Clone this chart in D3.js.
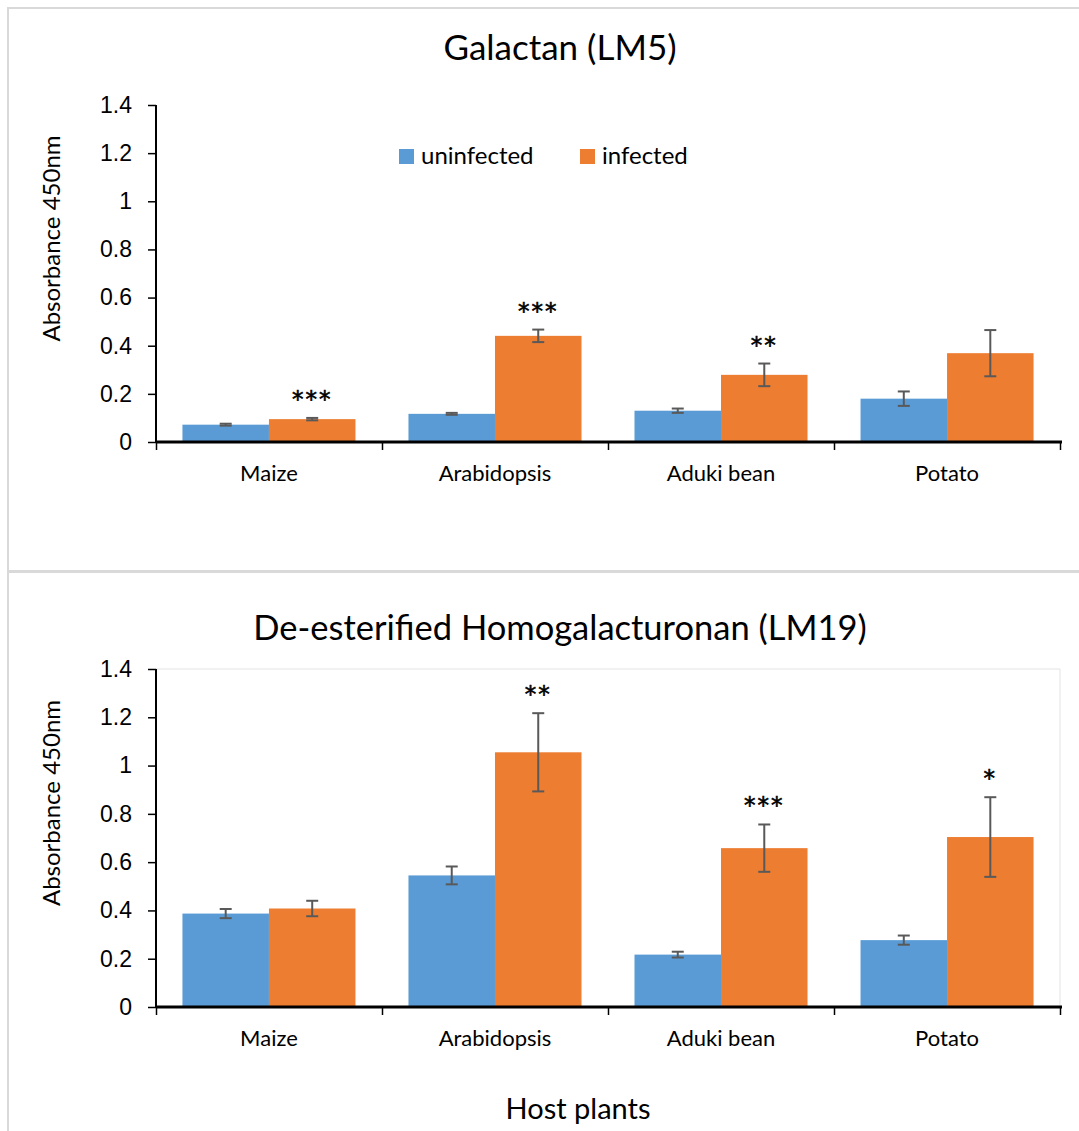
<!DOCTYPE html>
<html>
<head>
<meta charset="utf-8">
<script src="https://cdn.jsdelivr.net/npm/d3@7"></script>
<style>
  body { margin: 0; background: #fff; }
  svg { display: block; font-family: Lato, "Open Sans", sans-serif; }
</style>
</head>
<body>
<svg id="chart" width="1079" height="1131"></svg>
<script>
// host plants on the x axis, two series per plant
var plants = ["Maize", "Arabidopsis", "Aduki bean", "Potato"];
var series = ["uninfected", "infected"];
var yTicks = [0, 0.2, 0.4, 0.6, 0.8, 1, 1.2, 1.4];

// Galactan (LM5)
var lm5Uninfected    = [0.072, 0.117, 0.130, 0.180];
var lm5UninfectedErr = [0.004, 0.004, 0.009, 0.030];
var lm5Infected      = [0.095, 0.441, 0.279, 0.369];
var lm5InfectedErr   = [0.005, 0.026, 0.047, 0.096];
var lm5Stars         = ["***", "***", "**", ""];

// De-esterified Homogalacturonan (LM19)
var lm19Uninfected    = [0.387, 0.545, 0.217, 0.277];
var lm19UninfectedErr = [0.019, 0.037, 0.012, 0.019];
var lm19Infected      = [0.408, 1.055, 0.658, 0.704];
var lm19InfectedErr   = [0.032, 0.162, 0.098, 0.165];
var lm19Stars         = ["", "**", "***", "*"];

var color = d3.scaleOrdinal().domain(series).range(["#5b9bd5", "#ed7d31"]);

var svg = d3.select("#chart");

// panel frames
svg.append("rect").attr("x", 8).attr("y", 8).attr("width", 1100).attr("height", 563)
  .attr("fill", "none").attr("stroke", "#d9d9d9").attr("stroke-width", 2);
svg.append("rect").attr("x", 8).attr("y", 572).attr("width", 1100).attr("height", 600)
  .attr("fill", "none").attr("stroke", "#d9d9d9").attr("stroke-width", 2);

function rows(unf, unfErr, inf, infErr, stars) {
  return plants.map(function(p, i) {
    return {
      plant: p,
      stars: stars[i],
      bars: [
        {key: "uninfected", value: unf[i], err: unfErr[i]},
        {key: "infected", value: inf[i], err: infErr[i]}
      ]
    };
  });
}

function drawPanel(opt) {
  var top = opt.top, bottom = opt.bottom, left = 156, right = 1060;
  var g = svg.append("g");

  var x0 = d3.scaleBand().domain(plants).range([left, right])
    .paddingInner(0.2345).paddingOuter(0.117);
  var x1 = d3.scaleBand().domain(series).range([0, x0.bandwidth()]);
  var y = d3.scaleLinear().domain([0, 1.4]).range([bottom, top]);

  if (opt.frame) {
    g.append("path")
      .attr("d", "M" + left + "," + top + "H" + right + "V" + bottom)
      .attr("fill", "none").attr("stroke", "#e3e3e3").attr("stroke-width", 1);
  }

  // title
  g.append("text")
    .attr("x", 560).attr("y", opt.titleY)
    .attr("text-anchor", "middle")
    .style("font-size", opt.titleSize + "px").attr("fill", "#000")
    .text(opt.title);

  // bars
  var grp = g.selectAll(".grp")
    .data(opt.data)
    .enter().append("g")
      .attr("class", "grp")
      .attr("transform", function(d) { return "translate(" + x0(d.plant) + ",0)"; });

  grp.selectAll("rect")
    .data(function(d) { return d.bars; })
    .enter().append("rect")
      .attr("x", function(d) { return x1(d.key); })
      .attr("y", function(d) { return y(d.value); })
      .attr("width", x1.bandwidth())
      .attr("height", function(d) { return y(0) - y(d.value); })
      .attr("fill", function(d) { return color(d.key); });

  // error bars
  var eb = grp.selectAll(".err")
    .data(function(d) { return d.bars; })
    .enter().append("g").attr("class", "err")
      .attr("stroke", "#595959").attr("stroke-width", 2);
  eb.append("line")
    .attr("x1", function(d) { return x1(d.key) + x1.bandwidth() / 2; })
    .attr("x2", function(d) { return x1(d.key) + x1.bandwidth() / 2; })
    .attr("y1", function(d) { return y(d.value + d.err); })
    .attr("y2", function(d) { return y(d.value - d.err); });
  eb.selectAll(".cap")
    .data(function(d) { return [d.value + d.err, d.value - d.err].map(function(v) { return {key: d.key, v: v}; }); })
    .enter().append("line")
      .attr("x1", function(d) { return x1(d.key) + x1.bandwidth() / 2 - 6; })
      .attr("x2", function(d) { return x1(d.key) + x1.bandwidth() / 2 + 6; })
      .attr("y1", function(d) { return y(d.v); })
      .attr("y2", function(d) { return y(d.v); });

  // significance stars over the infected bar
  grp.append("text")
    .attr("x", x1("infected") + x1.bandwidth() / 2)
    .attr("y", function(d) { return y(d.bars[1].value + d.bars[1].err) - 11; })
    .attr("text-anchor", "middle")
    .style("font-family", "'DejaVu Sans', sans-serif")
    .style("font-size", "23px").style("letter-spacing", "2px")
    .attr("stroke", "#000").attr("stroke-width", 0.6)
    .text(function(d) { return d.stars; });

  // y axis
  var yAxis = g.append("g")
    .attr("transform", "translate(" + left + ",0)")
    .call(d3.axisLeft(y).tickValues(yTicks).tickSize(8).tickPadding(16).tickFormat(d3.format("~f")));
  yAxis.select(".domain").attr("stroke", "#000").attr("stroke-width", 2).attr("d", "M0," + top + "V" + bottom);
  yAxis.selectAll(".tick line").attr("stroke", "#000").attr("stroke-width", 1.5);
  yAxis.selectAll("text").style("font-size", "23px").attr("fill", "#000").attr("font-family", null);

  // x axis: ticks at category boundaries
  var edges = d3.scaleLinear().domain([0, plants.length]).range([left, right]);
  var xAxis = g.append("g")
    .attr("transform", "translate(0," + bottom + ")")
    .call(d3.axisBottom(edges).tickValues(d3.range(plants.length + 1)).tickSize(8).tickFormat(""));
  xAxis.select(".domain").attr("stroke", "#000").attr("stroke-width", 3).attr("d", "M" + left + ",0H" + (right + 2));
  xAxis.selectAll(".tick line").attr("stroke", "#000").attr("stroke-width", 1.5);

  g.selectAll(".cat")
    .data(plants)
    .enter().append("text")
      .attr("class", "cat")
      .attr("x", function(d) { return x0(d) + x0.bandwidth() / 2; })
      .attr("y", bottom + 39)
      .attr("text-anchor", "middle")
      .style("font-size", "22px")
      .text(function(d) { return d; });

  // y axis title
  g.append("text")
    .attr("transform", "translate(60," + ((top + bottom) / 2 - 35) + ") rotate(-90)")
    .attr("text-anchor", "middle")
    .style("font-size", "24px")
    .text("Absorbance 450nm");

  return g;
}

var lm5 = drawPanel({
  title: "Galactan (LM5)", titleY: 60, titleSize: 35, top: 105, bottom: 442,
  data: rows(lm5Uninfected, lm5UninfectedErr, lm5Infected, lm5InfectedErr, lm5Stars)
});

// legend (top panel only)
var legend = lm5.selectAll(".legend")
  .data(series)
  .enter().append("g")
    .attr("class", "legend")
    .attr("transform", function(d, i) { return "translate(" + (399 + i * 181) + ",149)"; });
legend.append("rect").attr("width", 15).attr("height", 15).attr("fill", function(d) { return color(d); });
legend.append("text").attr("x", 22).attr("y", 15).style("font-size", "24px").text(function(d) { return d; });

drawPanel({
  title: "De-esterified Homogalacturonan (LM19)", titleY: 640, titleSize: 34.5, top: 669, bottom: 1007, frame: true,
  data: rows(lm19Uninfected, lm19UninfectedErr, lm19Infected, lm19InfectedErr, lm19Stars)
});

svg.append("text")
  .attr("x", 578).attr("y", 1119)
  .attr("text-anchor", "middle")
  .style("font-size", "29px")
  .text("Host plants");
</script>
</body>
</html>
